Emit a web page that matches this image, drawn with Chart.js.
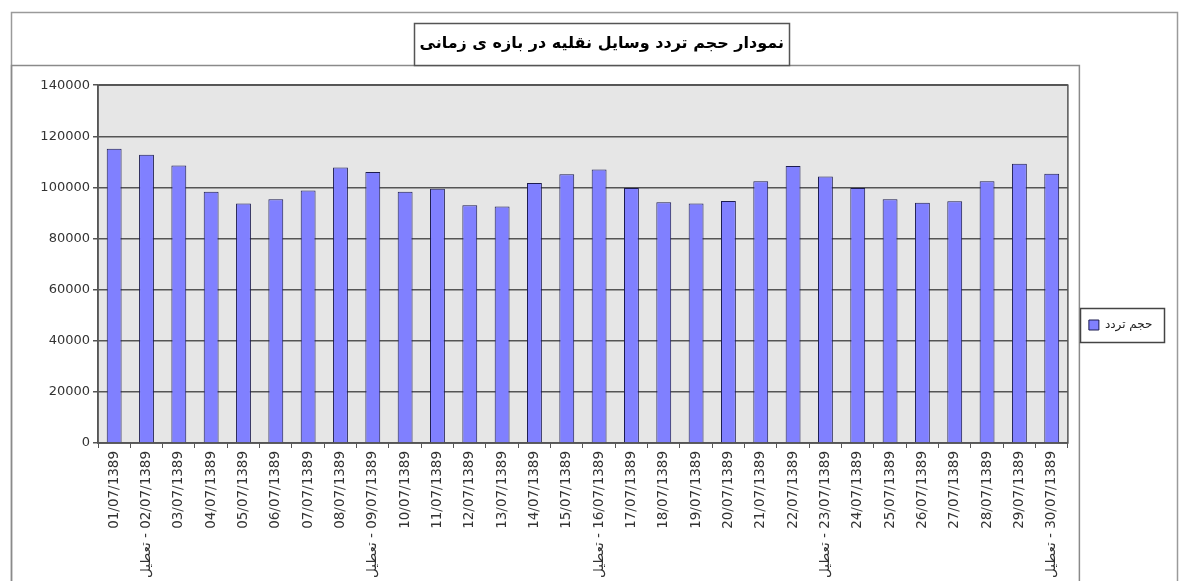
<!DOCTYPE html>
<html>
<head>
<meta charset="utf-8">
<script src="https://cdn.jsdelivr.net/npm/chart.js@4.4.1/dist/chart.umd.min.js"></script>
<style>
  html, body { margin: 0; padding: 0; background: #fff; overflow: hidden; }
  #viewport { width: 1180px; height: 581px; overflow: hidden; }
  #holder { position: relative; width: 1180px; height: 650px; }
</style>
</head>
<body>
<div id="viewport">
  <div id="holder"><canvas id="trafficChart"></canvas></div>
</div>
<script>
// ==== DỮ LIỆU ====
const chartTitle = "نمودار حجم تردد وسایل نقلیه در بازه ی زمانی";
const seriesName = "حجم تردد";
const holidayWord = "تعطیل";

const dayLabels = [
  "01/07/1389", "02/07/1389", "03/07/1389", "04/07/1389", "05/07/1389",
  "06/07/1389", "07/07/1389", "08/07/1389", "09/07/1389", "10/07/1389",
  "11/07/1389", "12/07/1389", "13/07/1389", "14/07/1389", "15/07/1389",
  "16/07/1389", "17/07/1389", "18/07/1389", "19/07/1389", "20/07/1389",
  "21/07/1389", "22/07/1389", "23/07/1389", "24/07/1389", "25/07/1389",
  "26/07/1389", "27/07/1389", "28/07/1389", "29/07/1389", "30/07/1389"
];
const holidayDays = ["02/07/1389", "09/07/1389", "16/07/1389", "23/07/1389", "30/07/1389"];

const trafficValues = [
  115100, 112800, 108600, 98300, 93700,
  95400, 98800, 107800, 106000, 98300,
  99500, 93000, 92500, 101700, 105200,
  107000, 99800, 94200, 93700, 94700,
  102400, 108400, 104300, 99800, 95400,
  94000, 94600, 102400, 109300, 105400
];

const yTickValues = [0, 20000, 40000, 60000, 80000, 100000, 120000, 140000];

// ==== HÀM TIỆN ÍCH ====
function axisLabel(day) {
  // LRM giữ chữ "تعطیل" nằm trước ngày khi vẽ trên canvas
  return holidayDays.includes(day) ? holidayWord + "\u200E - " + day : day;
}

const titleFont = { family: "'DejaVu Sans', sans-serif", size: 16, weight: "bold" };
const tickFont = { family: "'DejaVu Sans', sans-serif", size: 13 };
const xTickFont = { family: "'DejaVu Sans', sans-serif", size: 13.5 };

// khung viền kiểu Excel: khung ngoài, khung tiêu đề, khung vùng vẽ, khung chú thích
const framePlugin = {
  id: "frames",
  afterLayout(chart) {
    // dời tiêu đề sang phải một chút như bản gốc
    chart.titleBlock.left += 15;
    chart.titleBlock.right += 15;
  },
  beforeDraw(chart) {
    const { ctx, chartArea: a, width, height } = chart;
    const t = chart.titleBlock;
    ctx.save();

    // khung ngoài
    ctx.strokeStyle = "#9a9a9a";
    ctx.lineWidth = 1.5;
    ctx.strokeRect(11.5, 12.5, width - 14, height + 10);

    // khung tiêu đề
    const f = Chart.helpers.toFont(titleFont);
    ctx.font = f.string;
    const tw = ctx.measureText(chartTitle).width;
    const cx = (t.left + t.right) / 2;
    const cy = t.top + t.options.padding.top + f.lineHeight / 2;
    const boxTop = Math.round(cy - 21) + 0.5;
    const boxBottom = Math.round(cy + 21) + 0.5;

    // khung vùng biểu đồ
    ctx.strokeStyle = "#8a8a8a";
    ctx.strokeRect(11.5, boxBottom, a.right, height + 10);

    ctx.fillStyle = "#fff";
    ctx.fillRect(cx - tw / 2 - 5, boxTop, tw + 10, boxBottom - boxTop);
    ctx.strokeStyle = "#555";
    ctx.strokeRect(Math.round(cx - tw / 2 - 5) + 0.5, boxTop, Math.round(tw + 10), boxBottom - boxTop);

    // nền vùng vẽ
    ctx.fillStyle = "#e6e6e6";
    ctx.fillRect(a.left, a.top, a.width, a.height);
    ctx.strokeStyle = "#555";
    ctx.lineWidth = 1.5;
    ctx.strokeRect(a.left, a.top, a.width, a.height);

    // khung chú thích
    const hb = chart.legend.legendHitBoxes[0];
    if (hb) {
      const my = hb.top + hb.height / 2;
      ctx.fillStyle = "#fff";
      ctx.strokeStyle = "#444";
      ctx.lineWidth = 1.5;
      ctx.fillRect(hb.left - 9, my - 17, hb.width + 20, 34);
      ctx.strokeRect(Math.round(hb.left - 9) + 0.5, Math.round(my - 17) + 0.5, Math.round(hb.width + 20), 34);
    }
    ctx.restore();
  }
};

// ==== VẼ BIỂU ĐỒ ====
const ctx = document.getElementById("trafficChart").getContext("2d");
new Chart(ctx, {
  type: "bar",
  data: {
    labels: dayLabels.map(axisLabel),
    datasets: [
      {
        label: seriesName,
        data: trafficValues,
        backgroundColor: "#8080ff",
        borderColor: "#1c1c50",
        borderWidth: 1,
        barPercentage: 0.46,
        categoryPercentage: 1
      }
    ]
  },
  options: {
    responsive: true,
    maintainAspectRatio: false,
    animation: false,
    layout: { padding: { left: 11, right: 17.5, top: 0, bottom: 0 } },
    plugins: {
      title: {
        display: true,
        text: chartTitle,
        color: "#000",
        font: titleFont,
        padding: { top: 34, bottom: 32 }
      },
      legend: {
        display: true,
        position: "right",
        labels: {
          boxWidth: 10,
          boxHeight: 10,
          padding: 21,
          color: "#222",
          font: { family: "'DejaVu Sans', sans-serif", size: 12 }
        }
      },
      tooltip: { enabled: false }
    },
    scales: {
      x: {
        grid: { offset: true, drawOnChartArea: false, color: "#555", tickLength: 5, lineWidth: 1 },
        border: { color: "#555", width: 1.5 },
        ticks: {
          minRotation: 90,
          maxRotation: 90,
          autoSkip: false,
          padding: 3,
          color: "#333",
          font: xTickFont
        },
        afterFit: (scale) => { scale.height = 207; }
      },
      y: {
        min: 0,
        max: 140000,
        grid: { color: "#555", lineWidth: 1.5, tickLength: 5 },
        border: { color: "#555", width: 1.5 },
        ticks: {
          padding: 3,
          color: "#333",
          font: tickFont,
          callback: (value) => String(value)
        },
        afterBuildTicks: (scale) => {
          scale.ticks = yTickValues.map((v) => ({ value: v }));
        },
        afterFit: (scale) => { scale.width = 87; }
      }
    }
  },
  plugins: [framePlugin]
});
</script>
</body>
</html>
